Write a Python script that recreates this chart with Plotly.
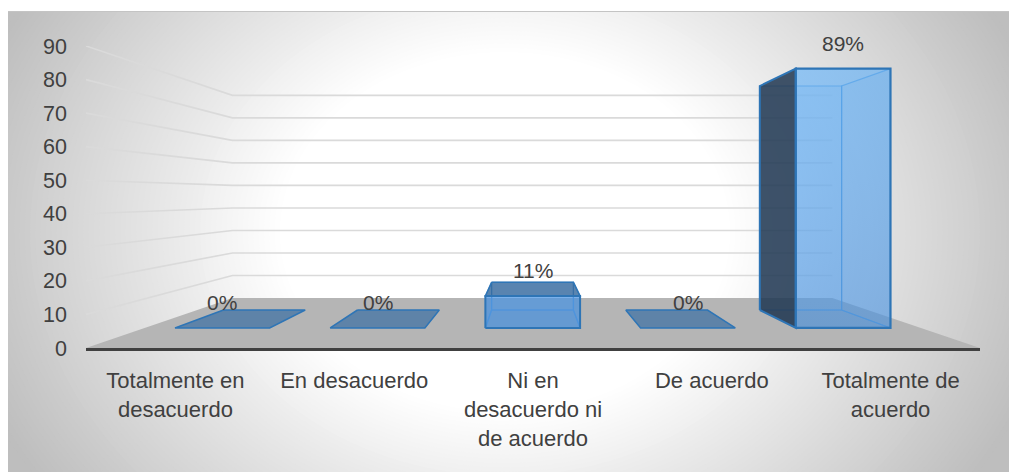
import plotly.graph_objects as go

# ---- data ----
categories = ["Totalmente en<br>desacuerdo", "En desacuerdo", "Ni en<br>desacuerdo ni<br>de acuerdo",
              "De acuerdo", "Totalmente de<br>acuerdo"]
values = [0, 0, 11, 0, 89]
y_ticks = [0, 10, 20, 30, 40, 50, 60, 70, 80, 90]

# ---- perspective used for the pseudo-3D look, in axis units ----
VP_U, VP_V = 2.489, 45.3      # vanishing point
F_WALL, F_BAR_FRONT, F_BAR_BACK = 0.671, 0.868, 0.75
BAR_HALF = 0.305
W, H = 1009, 472
L, R, T, B = 86, 29, 46, 124
PW, PH = W - L - R, H - T - B
TEXT = "#404040"

def proj(u, v, f):
    return VP_U + (u - VP_U) * f, VP_V + (v - VP_V) * f

def px(x):
    return (x - L) / PW

def py(y):
    return (H - B - y) / PH

fig = go.Figure()

def poly(points, fill=None, line=None, lw=1.5, gradient=None):
    xs, ys = zip(*(proj(*p) for p in points))
    closed = fill is not None or gradient is not None
    extra = {}
    if gradient is not None:
        extra["fillgradient"] = dict(type="vertical", colorscale=gradient)
    fig.add_trace(go.Scatter(
        x=list(xs) + ([xs[0]] if closed else []),
        y=list(ys) + ([ys[0]] if closed else []),
        mode="lines", fill="toself" if closed else None,
        fillcolor=fill, line=dict(color=line or "rgba(0,0,0,0)", width=lw if line else 0),
        hoverinfo="skip", showlegend=False, cliponaxis=False, **extra))

# floor
poly([(0, 0, 1), (5, 0, 1), (5, 0, F_WALL), (0, 0, F_WALL)], fill="#b5b5b5")

# gridlines: side wall and back wall
for t in y_ticks[1:]:
    poly([(0, t, 1), (0, t, F_WALL), (5, t, F_WALL)], line="#dadada", lw=1.6)

# bars
BORDER = "#2e75b6"
INNER = "rgba(91,155,213,0.75)"
for i, v in enumerate(values):
    c = i + 0.5
    u0, u1 = c - BAR_HALF, c + BAR_HALF
    fb, ff = F_BAR_BACK, F_BAR_FRONT
    tall = v > 20
    if v > 0:
        poly([(u0, 0, fb), (u1, 0, fb), (u1, v, fb), (u0, v, fb)], fill="rgba(91,165,235,0.12)", line=INNER, lw=1.2)
        poly([(u1, 0, fb), (u1, 0, ff), (u1, v, ff), (u1, v, fb)], fill="rgba(50,110,180,0.07)", line=INNER, lw=1.2)
        poly([(u0, 0, fb), (u1, 0, fb), (u1, 0, ff), (u0, 0, ff)], fill="rgba(60,110,160,0.10)", line=INNER, lw=1.2)
        if tall:
            poly([(u0, 0, fb), (u0, 0, ff), (u0, v, ff), (u0, v, fb)], fill="rgba(32,54,80,0.85)", line=BORDER, lw=2)
        else:
            poly([(u0, 0, fb), (u0, 0, ff), (u0, v, ff), (u0, v, fb)], fill="rgba(60,120,190,0.12)", line=INNER, lw=1.2)
    if not tall:
        poly([(u0, v, fb), (u1, v, fb), (u1, v, ff), (u0, v, ff)],
             fill="rgba(40,95,150,0.75)" if v > 0 else "rgba(40,100,160,0.62)", line=BORDER, lw=1.5)
    if v > 0:
        if tall:
            poly([(u0, 0, ff), (u1, 0, ff), (u1, v, ff), (u0, v, ff)], line=BORDER, lw=2.2,
                 gradient=[[0, "rgba(70,145,225,0.58)"], [1, "rgba(85,172,250,0.58)"]])
        else:
            poly([(u0, 0, ff), (u1, 0, ff), (u1, v, ff), (u0, v, ff)], fill="rgba(70,145,225,0.68)", line=BORDER, lw=2)
    x, y = proj(c, v, ff)
    fig.add_annotation(x=x, y=y, text=f"{v}%", showarrow=False, yshift=25,
                       font=dict(family="Liberation Sans", size=21, color=TEXT))

# background: soft radial fade, drawn below everything
shapes = [dict(type="rect", xref="paper", yref="paper", x0=px(0), x1=px(W), y0=py(H), y1=py(0),
               fillcolor="#bebebe", line_width=0, layer="below")]
CX, CY, K, R0, R1 = 505, 232, 0.8, 225, 560
N = 64
for j in range(N):
    t = j / (N - 1)
    r = R1 + (R0 - R1) * t
    g = int(round(190 + 65 * t))
    shapes.append(dict(type="circle", xref="paper", yref="paper",
                       x0=px(CX - r), x1=px(CX + r), y0=py(CY + r * K), y1=py(CY - r * K),
                       fillcolor=f"rgb({g},{g},{g})", line_width=0, layer="below"))
# white page margin around the chart area, with its thin top border
shapes.append(dict(type="rect", xref="paper", yref="paper", x0=px(0), x1=px(W), y0=py(11), y1=py(-5),
                   fillcolor="white", line_width=0, layer="below"))
shapes.append(dict(type="rect", xref="paper", yref="paper", x0=px(-5), x1=px(8), y0=py(H + 5), y1=py(-5),
                   fillcolor="white", line_width=0, layer="below"))
shapes.append(dict(type="line", xref="paper", yref="paper", x0=px(8), x1=px(W), y0=py(11.5), y1=py(11.5),
                   line=dict(color="#c4c4c4", width=1), layer="below"))

fig.update_layout(
    width=W, height=H, autosize=False,
    margin=dict(l=L, r=R, t=T, b=B, pad=0),
    paper_bgcolor="white", plot_bgcolor="rgba(0,0,0,0)",
    showlegend=False, shapes=shapes,
    xaxis=dict(range=[0, 5], tickvals=[i + 0.5 for i in range(5)], ticktext=categories,
               showgrid=False, zeroline=False, showline=True, linecolor="#404040", linewidth=3,
               ticks="", tickangle=0, ticklabelstandoff=11, automargin=False,
               tickfont=dict(family="Liberation Sans", size=22, color=TEXT)),
    yaxis=dict(range=[0, 90], tickvals=y_ticks, showgrid=False, zeroline=False, showline=False,
               ticks="", ticklabelstandoff=18, automargin=False,
               tickfont=dict(family="Liberation Sans", size=21.5, color=TEXT)),
)

fig.write_html("out.html", config={"displayModeBar": False},
               post_script="document.body.style.margin='0';document.body.style.overflow='hidden';")
